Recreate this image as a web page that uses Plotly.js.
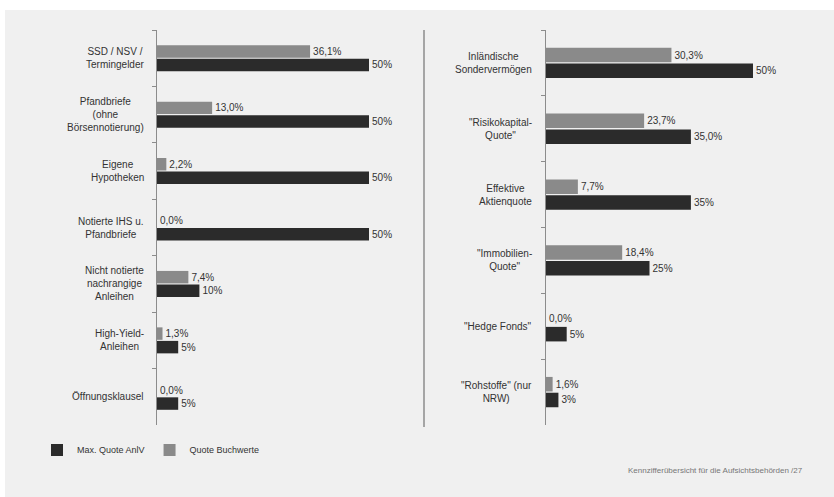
<!DOCTYPE html>
<html><head><meta charset="utf-8">
<script src="https://cdn.plot.ly/plotly-3.0.1.min.js"></script>
<style>
html,body{margin:0;padding:0;background:#ffffff;width:834px;height:497px;overflow:hidden}
#chart{position:absolute;left:5px;top:10px;width:829px;height:487px}
</style></head>
<body><div id="chart"></div>
<script>
// Left panel
const leftCategories = ["SSD / NSV /<br>Termingelder","Pfandbriefe<br>(ohne<br>Börsennotierung)","Eigene<br>Hypotheken","Notierte IHS u.<br>Pfandbriefe","Nicht notierte<br>nachrangige<br>Anleihen","High-Yield-<br>Anleihen","Öffnungsklausel"];
const leftBuchwerte = [36.1, 13.0, 2.2, 0.0, 7.4, 1.3, 0.0];
const leftBuchwerteLabels = ["36,1%","13,0%","2,2%","0,0%","7,4%","1,3%","0,0%"];
const leftMax = [50, 50, 50, 50, 10, 5, 5];
const leftMaxLabels = ["50%","50%","50%","50%","10%","5%","5%"];
// Right panel
const rightCategories = ["Inländische<br>Sondervermögen","\"Risikokapital-<br>Quote\"","Effektive<br>Aktienquote","\"Immobilien-<br>Quote\"","\"Hedge Fonds\"","\"Rohstoffe\" (nur<br>NRW)"];
const rightBuchwerte = [30.3, 23.7, 7.7, 18.4, 0.0, 1.6];
const rightBuchwerteLabels = ["30,3%","23,7%","7,7%","18,4%","0,0%","1,6%"];
const rightMax = [50, 35, 35, 25, 5, 3];
const rightMaxLabels = ["50%","35,0%","35%","25%","5%","3%"];
const seriesNames = ["Max. Quote AnlV","Quote Buchwerte"];
const footerText = "Kennzifferübersicht für die Aufsichtsbehörden /27";

const GRAY = "#8a8a8a", DARK = "#2b2b2b", TXT = "#333333";
const W = 829;
const font = {family: "Liberation Sans, Arial, sans-serif", size: 10, color: TXT};

function bar(x, y, labels, color, name, xa, ya, showlegend, rank) {
  return {type: "bar", orientation: "h", x: x, y: y, text: labels,
    textposition: "outside", textfont: {size: 10, color: TXT}, constraintext: "none",
    cliponaxis: false, marker: {color: color}, name: name, xaxis: xa, yaxis: ya,
    showlegend: showlegend, legendrank: rank, hoverinfo: "skip"};
}

const traces = [
  bar(leftBuchwerte, leftCategories, leftBuchwerteLabels, GRAY, seriesNames[1], "x", "y", true, 2),
  bar(leftMax, leftCategories, leftMaxLabels, DARK, seriesNames[0], "x", "y", true, 1),
  bar(rightBuchwerte, rightCategories, rightBuchwerteLabels, GRAY, seriesNames[1], "x2", "y2", false, 2),
  bar(rightMax, rightCategories, rightMaxLabels, DARK, seriesNames[0], "x2", "y2", false, 1)
];

const yCommon = {type: "category", autorange: "reversed", showline: true, linecolor: "#8c8c8c",
  linewidth: 1, ticks: "outside", tickson: "boundaries", ticklen: 4, tickcolor: "#8c8c8c",
  showticklabels: false, showgrid: false, zeroline: false, fixedrange: true};
const xCommon = {range: [0, 60], visible: false, showgrid: false, zeroline: false, fixedrange: true};

const annotations = [];
leftCategories.forEach(c => annotations.push({text: c, xref: "paper", yref: "y", x: 141/W, y: c,
  xanchor: "right", yanchor: "middle", align: "center", showarrow: false, font: font}));
rightCategories.forEach(c => annotations.push({text: c, xref: "paper", yref: "y2", x: 529/W, y: c,
  xanchor: "right", yanchor: "middle", align: "center", showarrow: false, font: font}));
annotations.push({text: footerText, xref: "paper", yref: "paper", x: 800/W, y: -0.114,
  xanchor: "right", yanchor: "middle", showarrow: false,
  font: {family: font.family, size: 8, color: "#777777"}});

const layout = {
  width: W, height: 487,
  margin: {l: 0, r: 0, t: 20, b: 72},
  paper_bgcolor: "#f0f0f0", plot_bgcolor: "rgba(0,0,0,0)",
  font: font,
  barmode: "group", bargap: 0.52, bargroupgap: 0.08,
  xaxis: Object.assign({}, xCommon, {domain: [152/W, (152 + 60*4.24)/W], anchor: "y"}),
  yaxis: Object.assign({}, yCommon, {domain: [0, 1], anchor: "x"}),
  xaxis2: Object.assign({}, xCommon, {domain: [541/W, (541 + 60*4.14)/W], anchor: "y2"}),
  yaxis2: Object.assign({}, yCommon, {domain: [0, 1], anchor: "x2"}),
  showlegend: true,
  legend: {orientation: "h", x: 32/W, y: -0.063, xanchor: "left", yanchor: "middle",
    bgcolor: "rgba(0,0,0,0)", font: {size: 9, color: TXT}, itemwidth: 30, tracegroupgap: 0},
  shapes: [{type: "line", xref: "paper", yref: "paper", x0: 419/W, x1: 419/W, y0: 1, y1: -0.005,
    line: {color: "#8c8c8c", width: 1.5}}],
  annotations: annotations
};

Plotly.newPlot("chart", traces, layout, {staticPlot: true, displayModeBar: false});
</script></body></html>
